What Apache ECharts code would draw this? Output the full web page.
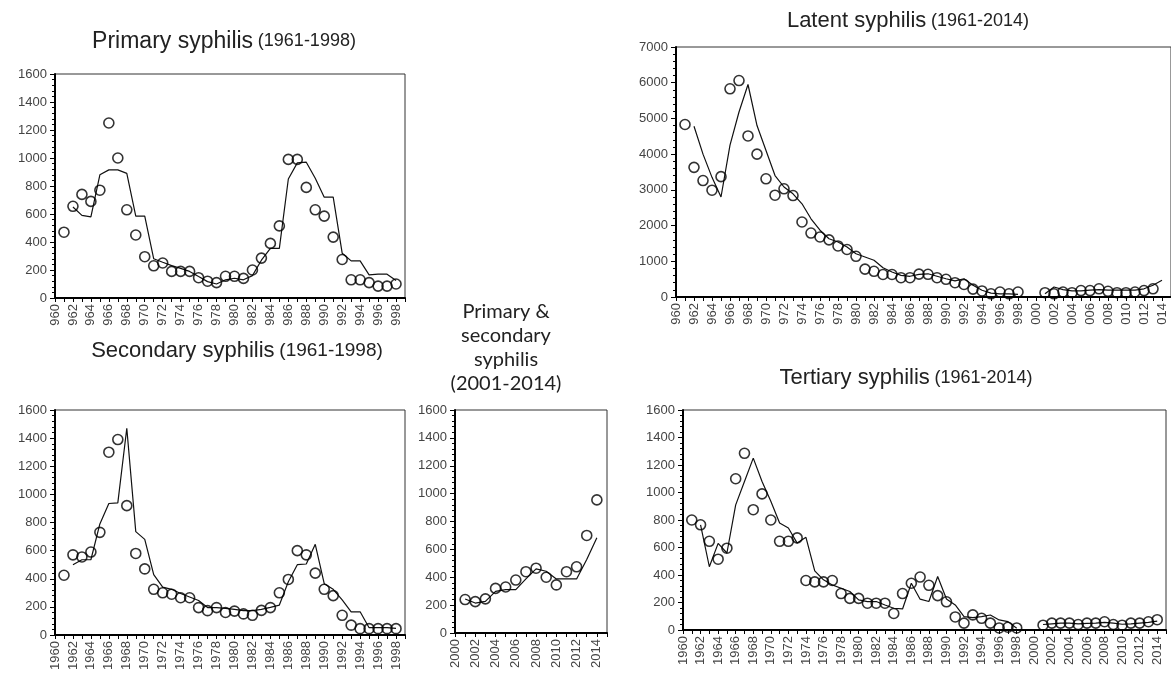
<!DOCTYPE html>
<html>
<head>
<meta charset="utf-8">
<script src="https://cdn.jsdelivr.net/npm/echarts@6/dist/echarts.min.js"></script>
<style>
  html, body { margin: 0; padding: 0; background: #fff; }
  #chart { width: 1171px; height: 678px; }
</style>
</head>
<body>
<div id="chart"></div>
<script>
// Anos (categorias)
function range(a, b) { const r = []; for (let y = a; y <= b; y++) r.push(y); return r; }
const yearsOld = range(1961, 1998);
const yearsAll = range(1961, 2014);
const yearsNew = range(2001, 2014);

// Primary syphilis (1961-1998)
const primObs = [470, 655, 740, 690, 770, 1250, 1000, 630, 450, 295, 230, 250, 190, 190, 190, 145, 120, 110, 155, 155,
  140, 200, 285, 390, 515, 990, 990, 790, 630, 585, 435, 275, 130, 130, 110, 85, 85, 100];
const primLine = [null, 650, 590, 580, 880, 915, 915, 890, 585, 585, 280, 255, 231, 212, 190, 153, 117, 100, 130, 141,
  130, 160, 270, 355, 355, 850, 965, 970, 855, 720, 720, 320, 265, 265, 165, 170, 170, 125];

// Latent syphilis (1961-2014)
const latObs = [4830, 3630, 3260, 2990, 3370, 5830, 6060, 4510, 4000, 3310, 2850, 3030, 2840, 2100, 1790, 1680, 1600, 1430, 1330, 1140,
  780, 720, 630, 630, 540, 540, 640, 635, 540, 495, 400, 350, 220, 170, 90, 140, 90, 140, null, null,
  120, 90, 140, 120, 180, 180, 230, 160, 120, 120, 140, 180, 230, null];
const latLine = [null, 4780, 4000, 3350, 2800, 4250, 5180, 5950, 4800, 4100, 3400, 3080, 2890, 2610, 2190, 1870, 1630, 1540, 1400, 1210,
  1120, 1030, 820, 700, 605, 580, 635, 650, 580, 510, 450, 510, 330, 190, 110, 90, 90, 75, null, null,
  90, 280, 205, 170, 170, 190, 205, 190, 190, 190, 190, 230, 330, 470];

// Secondary syphilis (1961-1998)
const secObs = [425, 570, 555, 590, 730, 1300, 1390, 920, 580, 470, 325, 300, 290, 265, 265, 195, 173, 195, 160, 170,
  150, 140, 175, 195, 300, 395, 600, 570, 440, 325, 280, 140, 70, 45, 45, 45, 45, 45];
const secLine = [null, 500, 535, 535, 790, 935, 940, 1470, 735, 680, 430, 340, 325, 295, 270, 245, 195, 195, 190, 182,
  173, 173, 182, 197, 213, 379, 500, 505, 645, 365, 325, 250, 165, 165, 52, 52, 52, 47];

// Primary & secondary syphilis (2001-2014)
const psObs = [240, 225, 245, 320, 330, 380, 440, 465, 400, 345, 440, 475, 700, 955];
const psLine = [244, 215, 227, 299, 311, 311, 388, 460, 443, 388, 388, 388, 527, 683];

// Tertiary syphilis (1961-2014)
const terObs = [800, 765, 645, 515, 595, 1100, 1285, 875, 990, 800, 645, 645, 670, 360, 350, 350, 360, 265, 230, 230,
  195, 195, 195, 120, 265, 340, 385, 325, 250, 205, 95, 50, 110, 85, 50, 15, 20, 15, null, null,
  35, 50, 50, 50, 40, 50, 50, 60, 40, 35, 50, 50, 60, 75];
const terLine = [null, 765, 460, 630, 560, 910, 1080, 1250, 1080, 936, 778, 742, 632, 674, 430, 365, 328, 304, 280, 219,
  207, 207, 182, 158, 153, 340, 224, 207, 389, 226, 182, 97, 90, 97, 109, 73, 61, 12, null, null,
  40, 45, 50, 50, 45, 48, 50, 55, 50, 42, 45, 50, 55, 65];

function pairs(years, vals) {
  return years.map((y, i) => [y, vals[i] == null ? '-' : vals[i]]);
}

const panels = [
  { grid: { left: 55, top: 74, width: 350, height: 224 }, xMin: 1960, xMax: 1999, yMax: 1600, yStep: 200, short: true,
    years: yearsOld, obs: primObs, line: primLine },
  { grid: { left: 676, top: 47, width: 495, height: 250 }, xMin: 1960, xMax: 2015, yMax: 7000, yStep: 1000, short: true,
    years: yearsAll, obs: latObs, line: latLine },
  { grid: { left: 55, top: 410, width: 350, height: 225 }, xMin: 1960, xMax: 1999, yMax: 1600, yStep: 200, short: false,
    years: yearsOld, obs: secObs, line: secLine },
  { grid: { left: 455, top: 410, width: 152, height: 223 }, xMin: 2000, xMax: 2015, yMax: 1600, yStep: 200, short: false,
    years: yearsNew, obs: psObs, line: psLine },
  { grid: { left: 683, top: 410, width: 483, height: 220 }, xMin: 1960, xMax: 2015, yMax: 1600, yStep: 200, short: false,
    years: yearsAll, obs: terObs, line: terLine }
];

const labelFont = { fontFamily: 'Liberation Sans', fontSize: 13, color: '#444' };

const grids = [], xAxes = [], yAxes = [], series = [];
panels.forEach((p, i) => {
  grids.push(Object.assign({ show: true, borderColor: '#333', borderWidth: 1 }, p.grid));
  xAxes.push({
    gridIndex: i, type: 'value', min: p.xMin, max: p.xMax, interval: 1,
    axisLine: { onZero: false, lineStyle: { color: '#000', width: 2 } },
    axisTick: { show: true, length: 4, lineStyle: { color: '#000' } },
    splitLine: { show: false },
    axisLabel: Object.assign({
      rotate: 90, margin: 6, showMinLabel: true, showMaxLabel: true,
      formatter: v => (v % 2 === 0 ? (p.short ? String(v).slice(1) : String(v)) : '')
    }, labelFont)
  });
  yAxes.push({
    gridIndex: i, type: 'value', min: 0, max: p.yMax, interval: p.yStep,
    axisLine: { show: true, lineStyle: { color: '#000', width: 2 } },
    axisTick: { show: true, length: 5, lineStyle: { color: '#000' } },
    minorTick: { show: true, splitNumber: 5, length: 3, lineStyle: { color: '#000' } },
    splitLine: { show: false },
    axisLabel: Object.assign({ margin: 8, formatter: v => String(v) }, labelFont)
  });
  series.push({
    type: 'line', xAxisIndex: i, yAxisIndex: i, data: pairs(p.years, p.line),
    showSymbol: false, connectNulls: false, z: 2,
    lineStyle: { color: '#111', width: 1.2 }
  });
  series.push({
    type: 'scatter', xAxisIndex: i, yAxisIndex: i, data: pairs(p.years, p.obs),
    symbol: 'circle', symbolSize: 10, z: 3,
    itemStyle: { color: 'rgba(255,255,255,0)', borderColor: '#000', borderWidth: 1.6 }
  });
});

const richTitle = (big, small) => ({
  a: { fontFamily: 'Liberation Sans', fontSize: big, color: '#222' },
  b: { fontFamily: 'Liberation Sans', fontSize: small, color: '#222' }
});

const titles = [
  { text: '{a|Primary syphilis} {b|(1961-1998)}', left: 224, top: 30, rich: richTitle(23, 18) },
  { text: '{a|Latent syphilis} {b|(1961-2014)}', left: 908, top: 10, rich: richTitle(22, 18) },
  { text: '{a|Secondary syphilis} {b|(1961-1998)}', left: 237, top: 340, rich: richTitle(22, 19) },
  { text: '{a|Tertiary syphilis} {b|(1961-2014)}', left: 906, top: 367, rich: richTitle(22, 18) }
].map(t => ({
  text: t.text, left: t.left, top: t.top, textAlign: 'center', padding: 0,
  textStyle: { fontWeight: 'normal', fontSize: 17, fontFamily: 'Liberation Sans', color: '#222', rich: t.rich }
}));
titles.push({
  text: 'Primary &\nsecondary\nsyphilis\n(2001-2014)', left: 506, top: 300, textAlign: 'center', padding: 0,
  textStyle: { fontWeight: 'normal', fontSize: 20, lineHeight: 24, fontFamily: 'Lato', color: '#222' }
});

const chart = echarts.init(document.getElementById('chart'));
chart.setOption({
  animation: false,
  backgroundColor: '#fff',
  title: titles,
  grid: grids,
  xAxis: xAxes,
  yAxis: yAxes,
  series: series
});
</script>
</body>
</html>
